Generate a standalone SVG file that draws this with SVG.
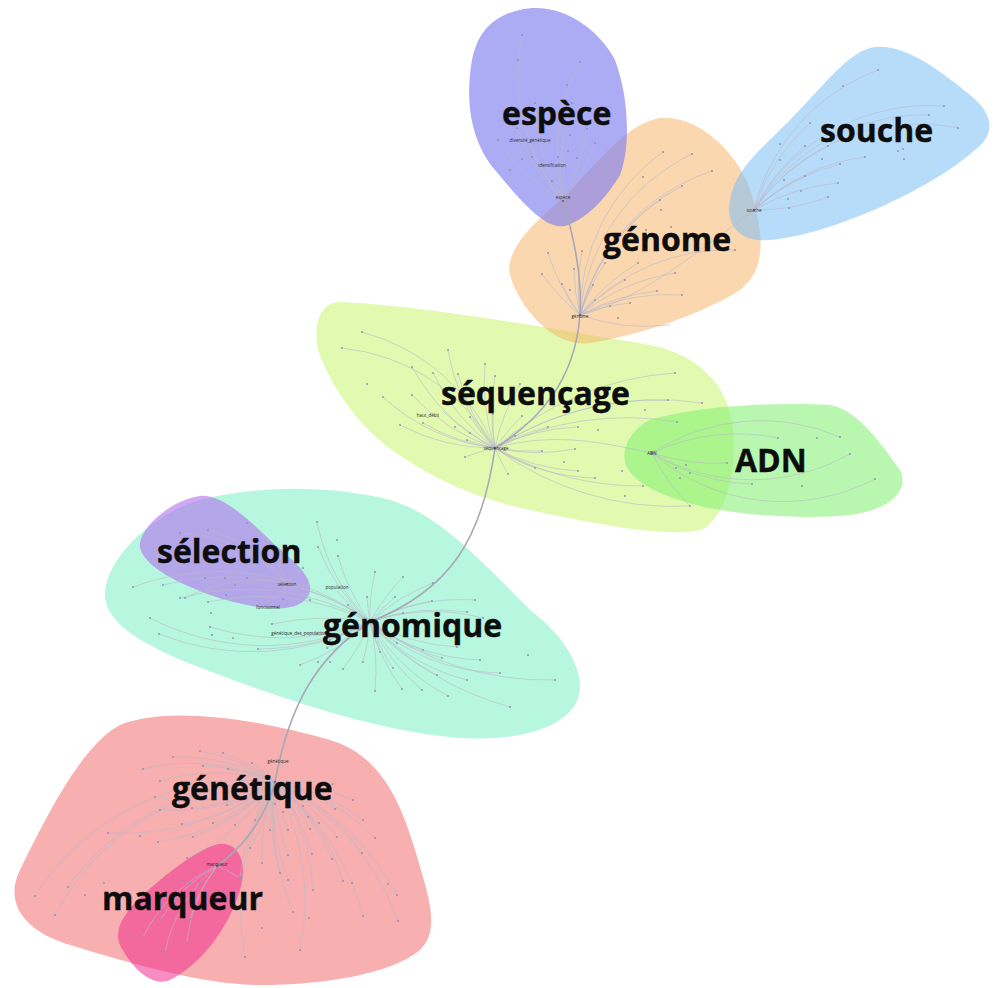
<svg xmlns="http://www.w3.org/2000/svg" width="995" height="988" viewBox="0 0 995 988">
  <style>
    .hull { stroke: none; }
    .edge { fill: none; stroke: #b9b9c9; stroke-width: 0.7; stroke-opacity: 0.85; }
    .trunk { fill: none; stroke: #a8a8b8; stroke-width: 1.6; }
    .leaf { fill: #8d8db3; }
    .hub { fill: #6f6f95; }
    .sm { font-family: "Open Sans", "Liberation Sans", sans-serif; font-size: 4.5px; fill: #2a2a2a; text-anchor: middle; }
    .big { font-family: "Open Sans", "Liberation Sans", sans-serif; font-weight: 700; font-size: 32px; fill: #0d0d0d; stroke: #0d0d0d; stroke-width: 0.4; }
  </style>

  <rect width="995" height="988" fill="#ffffff"/>

  <!-- community hulls -->
  <g id="hulls">
    <path id="hull-sequencage" class="hull" fill="#c8f570" fill-opacity="0.55" d="M 340,302 C 420,305 560,330 650,345 C 700,355 725,385 732,420 C 738,460 730,510 705,528 C 680,540 600,525 530,510 C 460,495 420,470 385,445 C 355,420 330,385 318,350 C 313,325 320,302 340,302 Z"/>
    <path id="hull-genome" class="hull" fill="#f8b060" fill-opacity="0.5" d="M 660,118 C 700,115 740,155 752,195 C 765,240 765,270 740,290 C 700,315 640,335 590,343 C 555,348 520,310 510,275 C 505,255 525,230 555,205 C 590,175 620,125 660,118 Z"/>
    <path id="hull-espece" class="hull" fill="#8080f0" fill-opacity="0.65" d="M 520,10 C 560,0 600,30 615,60 C 630,100 630,150 620,175 C 605,200 585,220 565,226 C 545,230 520,200 495,170 C 470,140 465,100 472,60 C 478,30 495,15 520,10 Z"/>
    <path id="hull-souche" class="hull" fill="#7cc0f5" fill-opacity="0.55" d="M 870,48 C 900,40 940,70 970,95 C 995,115 995,135 975,150 C 930,190 830,235 770,240 C 740,243 725,225 730,200 C 735,170 760,150 790,120 C 820,90 845,55 870,48 Z"/>
    <path id="hull-adn" class="hull" fill="#80f070" fill-opacity="0.55" d="M 650,420 C 700,405 780,402 830,405 C 860,410 885,450 900,470 C 910,490 890,510 850,515 C 800,520 720,515 680,500 C 640,488 620,470 625,450 C 628,435 640,425 650,420 Z"/>
    <path id="hull-genomique" class="hull" fill="#70f0c0" fill-opacity="0.5" d="M 200,500 C 260,485 330,485 390,500 C 440,515 480,560 530,610 C 570,640 590,680 575,705 C 555,735 500,742 450,737 C 380,730 300,705 220,675 C 150,650 105,625 105,595 C 105,560 150,515 200,500 Z"/>
    <path id="hull-selection" class="hull" fill="#b070f0" fill-opacity="0.6" d="M 200,496 C 220,494 245,515 275,545 C 300,565 320,585 305,600 C 290,615 250,608 210,595 C 170,580 145,565 140,548 C 137,530 170,500 200,496 Z"/>
    <path id="hull-genetique" class="hull" fill="#f06060" fill-opacity="0.5" d="M 120,725 C 170,705 260,720 330,740 C 380,755 400,800 415,850 C 430,900 440,930 420,950 C 390,975 320,985 260,985 C 200,985 120,960 70,945 C 20,930 5,900 20,870 C 40,830 80,745 120,725 Z"/>
    <path id="hull-marqueur" class="hull" fill="#f03090" fill-opacity="0.55" d="M 215,845 C 235,838 250,860 240,890 C 228,930 200,965 170,980 C 150,988 130,965 120,945 C 112,925 130,905 160,880 C 185,860 200,850 215,845 Z"/>
  </g>

  <!-- connectors -->
  <g id="connectors">
    <!-- espèce -->
    <path class="edge" d="M563,201 A200,200 0 0 1 522,35"/>
    <path class="edge" d="M563,201 A200,200 0 0 1 580,62"/>
    <path class="edge" d="M563,201 A200,200 0 0 1 535,103"/>
    <path class="edge" d="M563,201 A200,200 0 0 1 572,103"/>
    <path class="edge" d="M563,201 A200,200 0 0 1 517,128"/>
    <path class="edge" d="M563,201 A200,200 0 0 0 587,129"/>
    <path class="edge" d="M563,201 A200,200 0 0 1 570,135"/>
    <path class="edge" d="M563,201 A200,200 0 0 1 530,144"/>
    <path class="edge" d="M563,201 A200,200 0 0 0 595,143"/>
    <path class="edge" d="M563,201 A200,200 0 0 1 498,140"/>
    <path class="edge" d="M563,201 A200,200 0 0 1 552,169"/>
    <!-- génome -->
    <path class="edge" d="M580,315 A200,200 0 0 1 663,152"/>
    <path class="edge" d="M580,315 A200,200 0 0 1 692,154"/>
    <path class="edge" d="M580,315 A200,200 0 0 1 712,171"/>
    <path class="edge" d="M580,315 A200,200 0 0 1 682,186"/>
    <path class="edge" d="M580,315 A200,200 0 0 1 660,200"/>
    <path class="edge" d="M580,315 A200,200 0 0 1 548,253"/>
    <path class="edge" d="M580,315 A200,200 0 0 1 582,251"/>
    <path class="edge" d="M580,315 A200,200 0 0 1 605,263"/>
    <path class="edge" d="M580,315 A200,200 0 0 1 638,263"/>
    <path class="edge" d="M580,315 A200,200 0 0 1 542,274"/>
    <path class="edge" d="M580,315 A200,200 0 0 1 574,269"/>
    <path class="edge" d="M580,315 A200,200 0 0 1 562,284"/>
    <path class="edge" d="M580,315 A200,200 0 0 1 593,285"/>
    <path class="edge" d="M580,315 A200,200 0 0 1 625,280"/>
    <path class="edge" d="M580,315 A200,200 0 0 1 675,273"/>
    <path class="edge" d="M580,315 A200,200 0 0 1 657,291"/>
    <path class="edge" d="M580,315 A200,200 0 0 1 682,295"/>
    <path class="edge" d="M580,315 A200,200 0 0 1 595,300"/>
    <path class="edge" d="M580,315 A200,200 0 0 1 630,303"/>
    <path class="edge" d="M580,315 A200,200 0 0 1 735,250"/>
    <path class="edge" d="M580,315 A200,200 0 0 0 670,325"/>
    <!-- souche -->
    <path class="edge" d="M754,210 A200,200 0 0 1 878,70"/>
    <path class="edge" d="M754,210 A200,200 0 0 1 944,106"/>
    <path class="edge" d="M754,210 A200,200 0 0 1 929,115"/>
    <path class="edge" d="M754,210 A200,200 0 0 1 958,128"/>
    <path class="edge" d="M754,210 A200,200 0 0 1 810,123"/>
    <path class="edge" d="M754,210 A200,200 0 0 1 805,146"/>
    <path class="edge" d="M754,210 A200,200 0 0 1 828,146"/>
    <path class="edge" d="M754,210 A200,200 0 0 1 865,157"/>
    <path class="edge" d="M754,210 A200,200 0 0 1 840,164"/>
    <path class="edge" d="M754,210 A200,200 0 0 1 805,176"/>
    <path class="edge" d="M754,210 A200,200 0 0 1 838,183"/>
    <path class="edge" d="M754,210 A200,200 0 0 0 828,197"/>
    <!-- séquençage -->
    <path class="edge" d="M495,448 A200,200 0 0 0 362,332"/>
    <path class="edge" d="M495,448 A200,200 0 0 0 342,348"/>
    <path class="edge" d="M495,448 A200,200 0 0 1 448,350"/>
    <path class="edge" d="M495,448 A200,200 0 0 1 412,367"/>
    <path class="edge" d="M495,448 A200,200 0 0 1 485,364"/>
    <path class="edge" d="M495,448 A200,200 0 0 1 433,373"/>
    <path class="edge" d="M495,448 A200,200 0 0 1 458,374"/>
    <path class="edge" d="M495,448 A200,200 0 0 1 495,376"/>
    <path class="edge" d="M495,448 A200,200 0 0 1 520,384"/>
    <path class="edge" d="M495,448 A200,200 0 0 1 383,397"/>
    <path class="edge" d="M495,448 A200,200 0 0 1 412,395"/>
    <path class="edge" d="M495,448 A200,200 0 0 1 443,411"/>
    <path class="edge" d="M495,448 A200,200 0 0 1 470,417"/>
    <path class="edge" d="M495,448 A200,200 0 0 1 493,414"/>
    <path class="edge" d="M495,448 A200,200 0 0 1 522,416"/>
    <path class="edge" d="M495,448 A200,200 0 0 1 400,425"/>
    <path class="edge" d="M495,448 A200,200 0 0 1 423,423"/>
    <path class="edge" d="M495,448 A200,200 0 0 1 467,440"/>
    <path class="edge" d="M495,448 A200,200 0 0 1 515,436"/>
    <path class="edge" d="M495,448 A200,200 0 0 1 548,427"/>
    <path class="edge" d="M495,448 A200,200 0 0 1 578,427"/>
    <path class="edge" d="M495,448 A300,300 0 0 1 668,400"/>
    <path class="edge" d="M495,448 A300,300 0 0 1 675,373"/>
    <path class="edge" d="M495,448 A300,300 0 0 1 702,403"/>
    <path class="edge" d="M495,448 A300,300 0 0 1 677,422"/>
    <path class="edge" d="M495,448 A200,200 0 0 0 575,449"/>
    <path class="edge" d="M495,448 A200,200 0 0 0 542,451"/>
    <path class="edge" d="M495,448 A200,200 0 0 0 465,457"/>
    <path class="edge" d="M495,448 A200,200 0 0 0 508,474"/>
    <path class="edge" d="M495,448 A200,200 0 0 0 535,468"/>
    <path class="edge" d="M495,448 A200,200 0 0 0 578,471"/>
    <path class="edge" d="M495,448 A200,200 0 0 0 595,478"/>
    <path class="edge" d="M495,448 A300,300 0 0 0 643,486"/>
    <path class="edge" d="M495,448 A300,300 0 0 0 690,506"/>
    <!-- ADN -->
    <path class="edge" d="M652,453 A200,200 0 0 1 778,438"/>
    <path class="edge" d="M652,453 A200,200 0 0 1 840,437"/>
    <path class="edge" d="M652,453 A200,200 0 0 0 850,454"/>
    <path class="edge" d="M652,453 A200,200 0 0 0 727,463"/>
    <path class="edge" d="M652,453 A200,200 0 0 0 752,484"/>
    <path class="edge" d="M652,453 A200,200 0 0 0 875,479"/>
    <path class="edge" d="M652,453 A200,200 0 0 0 690,506"/>
    <!-- génomique -->
    <path class="edge" d="M370,622 A200,200 0 0 1 317,522"/>
    <path class="edge" d="M370,622 A200,200 0 0 1 318,547"/>
    <path class="edge" d="M370,622 A200,200 0 0 1 338,556"/>
    <path class="edge" d="M370,622 A200,200 0 0 1 375,572"/>
    <path class="edge" d="M370,622 A200,200 0 0 1 403,577"/>
    <path class="edge" d="M370,622 A200,200 0 0 1 433,583"/>
    <path class="edge" d="M370,622 A200,200 0 0 1 337,591"/>
    <path class="edge" d="M370,622 A200,200 0 0 1 367,597"/>
    <path class="edge" d="M370,622 A200,200 0 0 1 395,597"/>
    <path class="edge" d="M370,622 A200,200 0 0 1 432,601"/>
    <path class="edge" d="M370,622 A200,200 0 0 1 475,600"/>
    <path class="edge" d="M370,622 A200,200 0 0 1 348,605"/>
    <path class="edge" d="M370,622 A200,200 0 0 1 403,613"/>
    <path class="edge" d="M370,622 A200,200 0 0 1 467,612"/>
    <path class="edge" d="M370,622 A200,200 0 0 1 483,618"/>
    <path class="edge" d="M370,622 A200,200 0 0 1 300,633"/>
    <path class="edge" d="M370,622 A200,200 0 0 1 330,640"/>
    <path class="edge" d="M370,622 A200,200 0 0 0 397,643"/>
    <path class="edge" d="M370,622 A200,200 0 0 0 423,650"/>
    <path class="edge" d="M370,622 A200,200 0 0 0 457,647"/>
    <path class="edge" d="M370,622 A200,200 0 0 0 442,658"/>
    <path class="edge" d="M370,622 A200,200 0 0 0 480,660"/>
    <path class="edge" d="M370,622 A200,200 0 0 1 327,648"/>
    <path class="edge" d="M370,622 A200,200 0 0 1 300,665"/>
    <path class="edge" d="M370,622 A200,200 0 0 1 343,669"/>
    <path class="edge" d="M370,622 A200,200 0 0 1 363,662"/>
    <path class="edge" d="M370,622 A200,200 0 0 0 380,652"/>
    <path class="edge" d="M370,622 A200,200 0 0 0 393,668"/>
    <path class="edge" d="M370,622 A200,200 0 0 0 437,675"/>
    <path class="edge" d="M370,622 A200,200 0 0 0 467,680"/>
    <path class="edge" d="M370,622 A200,200 0 0 0 500,673"/>
    <path class="edge" d="M370,622 A300,300 0 0 0 555,680"/>
    <path class="edge" d="M370,622 A200,200 0 0 1 375,691"/>
    <path class="edge" d="M370,622 A200,200 0 0 0 402,689"/>
    <path class="edge" d="M370,622 A200,200 0 0 0 422,690"/>
    <path class="edge" d="M370,622 A200,200 0 0 0 448,696"/>
    <path class="edge" d="M370,622 A300,300 0 0 0 510,707"/>
    <path class="edge" d="M370,622 A250,250 0 0 0 180,598"/>
    <path class="edge" d="M370,622 A250,250 0 0 0 208,602"/>
    <path class="edge" d="M370,622 A250,250 0 0 1 150,618"/>
    <path class="edge" d="M370,622 A250,250 0 0 1 159,634"/>
    <path class="edge" d="M370,622 A250,250 0 0 1 210,627"/>
    <path class="edge" d="M370,622 A250,250 0 0 1 258,649"/>
    <path class="edge" d="M370,622 A250,250 0 0 0 272,624"/>
    <path class="edge" d="M370,622 A250,250 0 0 0 133,587"/>
    <path class="edge" d="M370,622 A250,250 0 0 0 163,585"/>
    <!-- sélection -->
    <path class="edge" d="M287,584 A150,150 0 0 0 247,523"/>
    <path class="edge" d="M287,584 A150,150 0 0 0 180,533"/>
    <path class="edge" d="M287,584 A150,150 0 0 0 208,530"/>
    <path class="edge" d="M287,584 A150,150 0 0 1 303,568"/>
    <path class="edge" d="M287,584 A150,150 0 0 0 283,599"/>
    <path class="edge" d="M287,584 A150,150 0 0 0 268,608"/>
    <path class="edge" d="M287,584 A150,150 0 0 1 310,600"/>
    <path class="edge" d="M287,584 A150,150 0 0 0 185,598"/>
    <!-- génétique -->
    <path class="edge" d="M275,782 A200,200 0 0 0 200,751"/>
    <path class="edge" d="M275,782 A200,200 0 0 0 223,753"/>
    <path class="edge" d="M275,782 A200,200 0 0 0 173,757"/>
    <path class="edge" d="M275,782 A200,200 0 0 0 252,763"/>
    <path class="edge" d="M275,782 A200,200 0 0 0 203,766"/>
    <path class="edge" d="M275,782 A200,200 0 0 0 143,769"/>
    <path class="edge" d="M275,782 A200,200 0 0 0 228,769"/>
    <path class="edge" d="M275,782 A200,200 0 0 0 160,781"/>
    <path class="edge" d="M275,782 A200,200 0 0 1 155,797"/>
    <path class="edge" d="M275,782 A200,200 0 0 1 192,808"/>
    <path class="edge" d="M275,782 A200,200 0 0 1 227,805"/>
    <path class="edge" d="M275,782 A200,200 0 0 1 160,810"/>
    <path class="edge" d="M275,782 A200,200 0 0 1 333,784"/>
    <path class="edge" d="M275,782 A200,200 0 0 1 353,800"/>
    <path class="edge" d="M275,782 A200,200 0 0 1 335,809"/>
    <path class="edge" d="M275,782 A200,200 0 0 1 363,820"/>
    <path class="edge" d="M275,782 A200,200 0 0 1 375,838"/>
    <path class="edge" d="M275,782 A200,200 0 0 1 275,804"/>
    <path class="edge" d="M275,782 A200,200 0 0 1 255,820"/>
    <path class="edge" d="M275,782 A200,200 0 0 1 235,825"/>
    <path class="edge" d="M275,782 A200,200 0 0 1 213,823"/>
    <path class="edge" d="M275,782 A200,200 0 0 1 182,824"/>
    <path class="edge" d="M275,782 A250,250 0 0 1 108,833"/>
    <path class="edge" d="M275,782 A200,200 0 0 1 158,842"/>
    <path class="edge" d="M275,782 A200,200 0 0 1 193,837"/>
    <path class="edge" d="M275,782 A200,200 0 0 0 270,830"/>
    <path class="edge" d="M275,782 A200,200 0 0 0 288,830"/>
    <path class="edge" d="M275,782 A200,200 0 0 1 308,817"/>
    <path class="edge" d="M275,782 A200,200 0 0 1 310,829"/>
    <path class="edge" d="M275,782 A200,200 0 0 1 337,837"/>
    <path class="edge" d="M275,782 A200,200 0 0 1 250,848"/>
    <path class="edge" d="M275,782 A200,200 0 0 0 288,855"/>
    <path class="edge" d="M275,782 A200,200 0 0 1 312,854"/>
    <path class="edge" d="M275,782 A200,200 0 0 1 332,859"/>
    <path class="edge" d="M275,782 A200,200 0 0 1 362,853"/>
    <path class="edge" d="M275,782 A200,200 0 0 1 187,858"/>
    <path class="edge" d="M275,782 A200,200 0 0 0 262,863"/>
    <path class="edge" d="M275,782 A200,200 0 0 0 280,873"/>
    <path class="edge" d="M275,782 A200,200 0 0 0 288,880"/>
    <path class="edge" d="M275,782 A200,200 0 0 1 313,890"/>
    <path class="edge" d="M275,782 A200,200 0 0 1 343,881"/>
    <path class="edge" d="M275,782 A250,250 0 0 1 397,895"/>
    <path class="edge" d="M275,782 A200,200 0 0 0 240,878"/>
    <path class="edge" d="M275,782 A250,250 0 0 0 68,887"/>
    <path class="edge" d="M275,782 A250,250 0 0 0 35,896"/>
    <path class="edge" d="M275,782 A250,250 0 0 0 55,915"/>
    <path class="edge" d="M275,782 A250,250 0 0 0 293,912"/>
    <path class="edge" d="M275,782 A250,250 0 0 1 363,916"/>
    <path class="edge" d="M275,782 A250,250 0 0 1 398,921"/>
    <path class="edge" d="M275,782 A250,250 0 0 0 245,957"/>
    <path class="edge" d="M275,782 A250,250 0 0 1 300,950"/>
    <!-- marqueur -->
    <path class="edge" d="M217,866 A150,150 0 0 0 160,920"/>
    <path class="edge" d="M217,866 A150,150 0 0 0 190,919"/>
    <path class="edge" d="M217,866 A150,150 0 0 0 143,937"/>
    <path class="edge" d="M217,866 A150,150 0 0 0 187,942"/>
    <path class="edge" d="M217,866 A150,150 0 0 0 165,952"/>
    <path class="edge" d="M217,866 A150,150 0 0 1 240,878"/>

    <!-- links between communities -->
    <path class="trunk" d="M563,201 C 575,240 582,280 580,315"/>
    <path class="trunk" d="M580,315 C 575,380 540,420 495,448"/>
    <path class="trunk" d="M495,448 C 482,540 450,590 370,622"/>
    <path class="trunk" d="M370,622 C 320,655 290,700 275,782"/>
    <path class="trunk" d="M275,782 C 265,820 240,850 217,866"/>
    <path class="edge" d="M580,315 C 640,300 700,250 754,210"/>
    <path class="edge" d="M495,448 C 560,430 610,445 652,453"/>
    <path class="edge" d="M370,622 C 340,600 310,590 287,584"/>
  </g>

  <!-- nodes -->
  <g id="nodes">
    <g id="node-espece">
      <circle class="hub" cx="563" cy="201" r="1.3"/>
      <text class="sm" x="563" y="199">espèce</text>
      <text class="sm" x="552" y="167">identification</text>
      <text class="sm" x="530" y="142">diversité_génétique</text>
      <g class="leaf">
        <circle cx="522" cy="35" r="0.9"/><circle cx="580" cy="62" r="0.9"/><circle cx="535" cy="103" r="0.9"/>
        <circle cx="572" cy="103" r="0.9"/><circle cx="517" cy="128" r="0.9"/><circle cx="587" cy="129" r="0.9"/>
        <circle cx="570" cy="135" r="0.9"/><circle cx="595" cy="143" r="0.9"/><circle cx="498" cy="140" r="0.9"/>
        <circle cx="518" cy="60" r="0.9"/><circle cx="567" cy="85" r="0.9"/><circle cx="532" cy="157" r="0.9"/>
        <circle cx="522" cy="159" r="0.9"/><circle cx="510" cy="170" r="0.9"/><circle cx="558" cy="157" r="0.9"/>
        <circle cx="568" cy="151" r="0.9"/><circle cx="577" cy="158" r="0.9"/><circle cx="552" cy="181" r="0.9"/>
      </g>
    </g>
    <g id="node-genome">
      <circle class="hub" cx="580" cy="315" r="1.3"/>
      <text class="sm" x="580" y="318">génome</text>
      <g class="leaf">
        <circle cx="663" cy="152" r="0.9"/><circle cx="692" cy="154" r="0.9"/><circle cx="712" cy="171" r="0.9"/>
        <circle cx="682" cy="186" r="0.9"/><circle cx="660" cy="200" r="0.9"/><circle cx="548" cy="253" r="0.9"/>
        <circle cx="582" cy="251" r="0.9"/><circle cx="605" cy="263" r="0.9"/><circle cx="638" cy="263" r="0.9"/>
        <circle cx="542" cy="274" r="0.9"/><circle cx="574" cy="269" r="0.9"/><circle cx="562" cy="284" r="0.9"/>
        <circle cx="593" cy="285" r="0.9"/><circle cx="625" cy="280" r="0.9"/><circle cx="675" cy="273" r="0.9"/>
        <circle cx="657" cy="291" r="0.9"/><circle cx="682" cy="295" r="0.9"/><circle cx="595" cy="300" r="0.9"/>
        <circle cx="630" cy="303" r="0.9"/><circle cx="735" cy="250" r="0.9"/><circle cx="643" cy="177" r="0.9"/>
        <circle cx="661" cy="210" r="0.9"/><circle cx="646" cy="230" r="0.9"/><circle cx="671" cy="227" r="0.9"/>
        <circle cx="570" cy="290" r="0.9"/><circle cx="610" cy="306" r="0.9"/><circle cx="618" cy="318" r="0.9"/>
      </g>
    </g>
    <g id="node-souche">
      <circle class="hub" cx="754" cy="210" r="1.3"/>
      <text class="sm" x="754" y="212">souche</text>
      <g class="leaf">
        <circle cx="878" cy="70" r="0.9"/><circle cx="944" cy="106" r="0.9"/><circle cx="929" cy="115" r="0.9"/>
        <circle cx="958" cy="128" r="0.9"/><circle cx="810" cy="123" r="0.9"/><circle cx="805" cy="146" r="0.9"/>
        <circle cx="828" cy="146" r="0.9"/><circle cx="865" cy="157" r="0.9"/><circle cx="840" cy="164" r="0.9"/>
        <circle cx="805" cy="176" r="0.9"/><circle cx="838" cy="183" r="0.9"/><circle cx="828" cy="197" r="0.9"/>
        <circle cx="843" cy="86" r="0.9"/><circle cx="780" cy="144" r="0.9"/><circle cx="780" cy="160" r="0.9"/>
        <circle cx="822" cy="159" r="0.9"/><circle cx="898" cy="151" r="0.9"/><circle cx="903" cy="149" r="0.9"/>
        <circle cx="904" cy="159" r="0.9"/><circle cx="784" cy="180" r="0.9"/><circle cx="801" cy="191" r="0.9"/>
        <circle cx="788" cy="199" r="0.9"/><circle cx="789" cy="208" r="0.9"/>
      </g>
    </g>
    <g id="node-sequencage">
      <circle class="hub" cx="495" cy="448" r="1.3"/>
      <text class="sm" x="496" y="450">séquençage</text>
      <text class="sm" x="428" y="417">haut_débit</text>
      <g class="leaf">
        <circle cx="362" cy="332" r="0.9"/><circle cx="342" cy="348" r="0.9"/><circle cx="448" cy="350" r="0.9"/>
        <circle cx="412" cy="367" r="0.9"/><circle cx="485" cy="364" r="0.9"/><circle cx="433" cy="373" r="0.9"/>
        <circle cx="458" cy="374" r="0.9"/><circle cx="495" cy="376" r="0.9"/><circle cx="520" cy="384" r="0.9"/>
        <circle cx="383" cy="397" r="0.9"/><circle cx="412" cy="395" r="0.9"/><circle cx="470" cy="417" r="0.9"/>
        <circle cx="493" cy="414" r="0.9"/><circle cx="522" cy="416" r="0.9"/><circle cx="400" cy="425" r="0.9"/>
        <circle cx="423" cy="423" r="0.9"/><circle cx="467" cy="440" r="0.9"/><circle cx="515" cy="436" r="0.9"/>
        <circle cx="548" cy="427" r="0.9"/><circle cx="578" cy="427" r="0.9"/><circle cx="668" cy="400" r="0.9"/>
        <circle cx="675" cy="373" r="0.9"/><circle cx="702" cy="403" r="0.9"/><circle cx="677" cy="422" r="0.9"/>
        <circle cx="575" cy="449" r="0.9"/><circle cx="542" cy="451" r="0.9"/><circle cx="465" cy="457" r="0.9"/>
        <circle cx="508" cy="474" r="0.9"/><circle cx="535" cy="468" r="0.9"/><circle cx="578" cy="471" r="0.9"/>
        <circle cx="595" cy="478" r="0.9"/><circle cx="643" cy="486" r="0.9"/><circle cx="690" cy="506" r="0.9"/>
        <circle cx="367" cy="384" r="0.9"/><circle cx="455" cy="427" r="0.9"/><circle cx="470" cy="433" r="0.9"/>
        <circle cx="598" cy="430" r="0.9"/><circle cx="645" cy="410" r="0.9"/><circle cx="625" cy="496" r="0.9"/>
        <circle cx="564" cy="462" r="0.9"/><circle cx="622" cy="471" r="0.9"/>
      </g>
    </g>
    <g id="node-adn">
      <circle class="hub" cx="652" cy="453" r="1.3"/>
      <text class="sm" x="652" y="455">ADN</text>
      <g class="leaf">
        <circle cx="778" cy="438" r="0.9"/><circle cx="840" cy="437" r="0.9"/><circle cx="850" cy="454" r="0.9"/>
        <circle cx="727" cy="463" r="0.9"/><circle cx="752" cy="484" r="0.9"/><circle cx="875" cy="479" r="0.9"/>
        <circle cx="817" cy="438" r="0.9"/><circle cx="686" cy="465" r="0.9"/><circle cx="676" cy="468" r="0.9"/>
        <circle cx="690" cy="473" r="0.9"/><circle cx="680" cy="478" r="0.9"/><circle cx="802" cy="486" r="0.9"/>
      </g>
    </g>
    <g id="node-genomique">
      <circle class="hub" cx="370" cy="622" r="1.3"/>
      <text class="sm" x="337" y="589">population</text>
      <text class="sm" x="300" y="635">génétique_des_populations</text>
      <g class="leaf">
        <circle cx="317" cy="522" r="0.9"/><circle cx="318" cy="547" r="0.9"/><circle cx="338" cy="556" r="0.9"/>
        <circle cx="375" cy="572" r="0.9"/><circle cx="403" cy="577" r="0.9"/><circle cx="433" cy="583" r="0.9"/>
        <circle cx="367" cy="597" r="0.9"/><circle cx="395" cy="597" r="0.9"/><circle cx="432" cy="601" r="0.9"/>
        <circle cx="475" cy="600" r="0.9"/><circle cx="348" cy="605" r="0.9"/><circle cx="403" cy="613" r="0.9"/>
        <circle cx="467" cy="612" r="0.9"/><circle cx="483" cy="618" r="0.9"/><circle cx="330" cy="640" r="0.9"/>
        <circle cx="397" cy="643" r="0.9"/><circle cx="423" cy="650" r="0.9"/><circle cx="457" cy="647" r="0.9"/>
        <circle cx="442" cy="658" r="0.9"/><circle cx="480" cy="660" r="0.9"/><circle cx="327" cy="648" r="0.9"/>
        <circle cx="300" cy="665" r="0.9"/><circle cx="343" cy="669" r="0.9"/><circle cx="363" cy="662" r="0.9"/>
        <circle cx="380" cy="652" r="0.9"/><circle cx="393" cy="668" r="0.9"/><circle cx="437" cy="675" r="0.9"/>
        <circle cx="467" cy="680" r="0.9"/><circle cx="500" cy="673" r="0.9"/><circle cx="555" cy="680" r="0.9"/>
        <circle cx="375" cy="691" r="0.9"/><circle cx="402" cy="689" r="0.9"/><circle cx="422" cy="690" r="0.9"/>
        <circle cx="448" cy="696" r="0.9"/><circle cx="510" cy="707" r="0.9"/><circle cx="180" cy="598" r="0.9"/>
        <circle cx="208" cy="602" r="0.9"/><circle cx="150" cy="618" r="0.9"/><circle cx="159" cy="634" r="0.9"/>
        <circle cx="210" cy="627" r="0.9"/><circle cx="258" cy="649" r="0.9"/><circle cx="272" cy="624" r="0.9"/>
        <circle cx="133" cy="587" r="0.9"/><circle cx="163" cy="585" r="0.9"/><circle cx="337" cy="540" r="0.9"/>
        <circle cx="212" cy="635" r="0.9"/><circle cx="233" cy="638" r="0.9"/><circle cx="211" cy="613" r="0.9"/>
        <circle cx="318" cy="662" r="0.9"/><circle cx="330" cy="662" r="0.9"/><circle cx="528" cy="655" r="0.9"/>
      </g>
    </g>
    <g id="node-selection">
      <circle class="hub" cx="287" cy="584" r="1.3"/>
      <text class="sm" x="287" y="586">sélection</text>
      <text class="sm" x="268" y="609">fonctionnel</text>
      <g class="leaf">
        <circle cx="247" cy="523" r="0.9"/><circle cx="180" cy="533" r="0.9"/><circle cx="208" cy="530" r="0.9"/>
        <circle cx="303" cy="568" r="0.9"/><circle cx="283" cy="599" r="0.9"/><circle cx="310" cy="600" r="0.9"/>
        <circle cx="185" cy="598" r="0.9"/><circle cx="205" cy="578" r="0.9"/><circle cx="225" cy="578" r="0.9"/>
        <circle cx="235" cy="585" r="0.9"/><circle cx="247" cy="578" r="0.9"/><circle cx="226" cy="595" r="0.9"/>
      </g>
    </g>
    <g id="node-genetique">
      <circle class="hub" cx="275" cy="782" r="1.3"/>
      <text class="sm" x="278" y="763">génétique</text>
      <g class="leaf">
        <circle cx="200" cy="751" r="0.9"/><circle cx="223" cy="753" r="0.9"/><circle cx="173" cy="757" r="0.9"/>
        <circle cx="252" cy="763" r="0.9"/><circle cx="203" cy="766" r="0.9"/><circle cx="143" cy="769" r="0.9"/>
        <circle cx="228" cy="769" r="0.9"/><circle cx="160" cy="781" r="0.9"/><circle cx="155" cy="797" r="0.9"/>
        <circle cx="192" cy="808" r="0.9"/><circle cx="227" cy="805" r="0.9"/><circle cx="160" cy="810" r="0.9"/>
        <circle cx="333" cy="784" r="0.9"/><circle cx="353" cy="800" r="0.9"/><circle cx="335" cy="809" r="0.9"/>
        <circle cx="363" cy="820" r="0.9"/><circle cx="375" cy="838" r="0.9"/><circle cx="275" cy="804" r="0.9"/>
        <circle cx="255" cy="820" r="0.9"/><circle cx="235" cy="825" r="0.9"/><circle cx="213" cy="823" r="0.9"/>
        <circle cx="182" cy="824" r="0.9"/><circle cx="108" cy="833" r="0.9"/><circle cx="158" cy="842" r="0.9"/>
        <circle cx="193" cy="837" r="0.9"/><circle cx="270" cy="830" r="0.9"/><circle cx="288" cy="830" r="0.9"/>
        <circle cx="308" cy="817" r="0.9"/><circle cx="310" cy="829" r="0.9"/><circle cx="337" cy="837" r="0.9"/>
        <circle cx="250" cy="848" r="0.9"/><circle cx="288" cy="855" r="0.9"/><circle cx="312" cy="854" r="0.9"/>
        <circle cx="332" cy="859" r="0.9"/><circle cx="362" cy="853" r="0.9"/><circle cx="187" cy="858" r="0.9"/>
        <circle cx="262" cy="863" r="0.9"/><circle cx="280" cy="873" r="0.9"/><circle cx="288" cy="880" r="0.9"/>
        <circle cx="313" cy="890" r="0.9"/><circle cx="343" cy="881" r="0.9"/><circle cx="397" cy="895" r="0.9"/>
        <circle cx="68" cy="887" r="0.9"/><circle cx="35" cy="896" r="0.9"/><circle cx="55" cy="915" r="0.9"/>
        <circle cx="293" cy="912" r="0.9"/><circle cx="363" cy="916" r="0.9"/><circle cx="398" cy="921" r="0.9"/>
        <circle cx="245" cy="957" r="0.9"/><circle cx="300" cy="950" r="0.9"/><circle cx="140" cy="836" r="0.9"/>
        <circle cx="104" cy="883" r="0.9"/><circle cx="85" cy="895" r="0.9"/><circle cx="262" cy="928" r="0.9"/>
        <circle cx="309" cy="918" r="0.9"/><circle cx="388" cy="884" r="0.9"/><circle cx="352" cy="883" r="0.9"/>
        <circle cx="319" cy="823" r="0.9"/><circle cx="303" cy="806" r="0.9"/><circle cx="283" cy="812" r="0.9"/>
      </g>
    </g>
    <g id="node-marqueur">
      <circle class="hub" cx="217" cy="866" r="1.3"/>
      <text class="sm" x="217" y="866">marqueur</text>
      <g class="leaf">
        <circle cx="160" cy="920" r="0.9"/><circle cx="190" cy="919" r="0.9"/><circle cx="143" cy="937" r="0.9"/>
        <circle cx="187" cy="942" r="0.9"/><circle cx="165" cy="952" r="0.9"/><circle cx="240" cy="878" r="0.9"/>
        <circle cx="183" cy="880" r="0.9"/><circle cx="190" cy="883" r="0.9"/><circle cx="200" cy="883" r="0.9"/>
      </g>
    </g>
  </g>

  <!-- community names -->
  <g id="community-labels">
    <text class="big" x="502" y="125">espèce</text>
    <text class="big" x="820" y="142">souche</text>
    <text class="big" x="603" y="251">génome</text>
    <text class="big" x="441" y="405">séquençage</text>
    <text class="big" x="735" y="472">ADN</text>
    <text class="big" x="157" y="563">sélection</text>
    <text class="big" x="323" y="637">génomique</text>
    <text class="big" x="172" y="800">génétique</text>
    <text class="big" x="102" y="910">marqueur</text>
  </g>
</svg>
